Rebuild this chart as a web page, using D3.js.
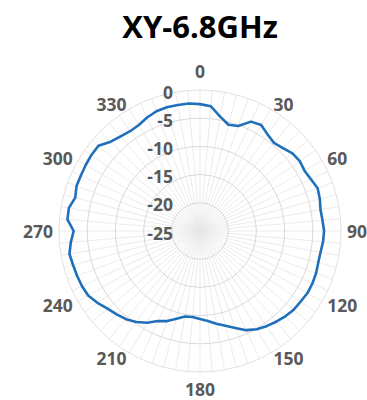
<!DOCTYPE html>
<html>
<head>
<meta charset="utf-8">
<script src="https://cdn.jsdelivr.net/npm/d3@7"></script>
<style>
  html, body { margin: 0; padding: 0; background: #fff; }
  svg { display: block; }
</style>
</head>
<body>
<svg id="chart" width="367" height="400"></svg>
<script>
// Azimuth (degrees, clockwise from top) and measured gain (dB) in the XY plane
const angles = [
  0, 5, 10, 15, 20, 25, 30, 35, 40, 45, 50, 55,
  60, 65, 70, 75, 80, 85, 90, 95, 100, 105, 110, 115,
  120, 125, 130, 135, 140, 145, 150, 155, 160, 165, 170, 175,
  180, 185, 190, 195, 200, 205, 210, 215, 220, 225, 230, 235,
  240, 245, 250, 255, 260, 265, 270, 275, 280, 285, 290, 295,
  300, 305, 310, 315, 320, 325, 330, 335, 340, 345, 350, 355
];
const gain = [
  -2.5, -2.8, -4.4, -5.5, -5.2, -3.6, -3.3, -4.1, -4.6, -4.2, -3.6, -3.4,
  -3.6, -3.3, -2.8, -3.0, -3.3, -3.2, -3.0, -3.1, -3.3, -3.3, -3.1, -3.0,
  -3.0, -3.2, -3.3, -3.6, -4.0, -4.4, -4.9, -5.6, -6.7, -7.6, -8.3, -9.0,
  -9.4, -9.7, -9.6, -8.9, -8.0, -7.4, -6.2, -5.3, -4.6, -4.1, -3.6, -2.8,
  -2.1, -1.9, -1.8, -1.7, -1.5, -2.0, -2.6, -1.4, -1.4, -2.1, -1.7, -1.7,
  -1.6, -1.5, -1.5, -2.6, -3.1, -3.4, -3.3, -2.8, -2.4, -2.3, -2.3, -2.3
];
const angleTicks = [0, 30, 60, 90, 120, 150, 180, 210, 240, 270, 300, 330];
const radialTicks = [0, -5, -10, -15, -20, -25];
const spokeAngles = d3.range(0, 360, 5);
const title = "XY-6.8GHz";

const svg = d3.select("#chart");
const cx = 200, cy = 231, R = 141;

const r = d3.scaleLinear().domain([-25, 0]).range([0, R]);
const rad = d => d * Math.PI / 180;

const g = svg.append("g").attr("transform", `translate(${cx},${cy})`);

// spokes every 5 degrees
g.append("g").selectAll("line").data(spokeAngles).join("line")
  .attr("x1", 0).attr("y1", 0)
  .attr("x2", d => R * Math.sin(rad(d)))
  .attr("y2", d => -R * Math.cos(rad(d)))
  .attr("stroke", "#e6e6e6").attr("stroke-width", 0.8);

// concentric rings
g.append("g").selectAll("circle").data(radialTicks.filter(v => v > -25)).join("circle")
  .attr("r", d => r(d))
  .attr("fill", "none")
  .attr("stroke", d => d === 0 ? "#e8dfd9" : "#dadada")
  .attr("stroke-width", 1);

// pattern trace
const pts = angles.map((a, i) => [rad(a), r(gain[i])]);
const line = d3.lineRadial().curve(d3.curveLinearClosed);
g.append("path")
  .attr("d", line(pts))
  .attr("fill", "none")
  .attr("stroke", "#1f6fba")
  .attr("stroke-width", 2.6)
  .attr("stroke-linejoin", "round");

const font = "'Open Sans', sans-serif";
const labelSize = 17.5;

// angle labels around the outer ring
const labR = R + 6;
g.append("g").selectAll("text").data(angleTicks).join("text")
  .attr("x", d => labR * Math.sin(rad(d)))
  .attr("y", d => {
    const y = -labR * Math.cos(rad(d));
    if (d === 0) return y - 13;
    if (d === 180) return y + 11;
    return y;
  })
  .attr("text-anchor", d => d === 0 || d === 180 ? "middle" : (d < 180 ? "start" : "end"))
  .attr("dominant-baseline", "central")
  .attr("font-family", font)
  .attr("font-weight", 700)
  .attr("font-size", labelSize)
  .attr("fill", "#595959")
  .text(d => d);

// radial value labels
g.append("g").selectAll("text").data(radialTicks).join("text")
  .attr("x", -27)
  .attr("y", d => -r(d) + 1.5)
  .attr("text-anchor", "end")
  .attr("dominant-baseline", "central")
  .attr("font-family", font)
  .attr("font-weight", 700)
  .attr("font-size", labelSize)
  .attr("fill", "#595959")
  .text(d => d);

// title
svg.append("text")
  .attr("x", 200).attr("y", 38)
  .attr("text-anchor", "middle")
  .attr("font-family", font)
  .attr("font-weight", 700)
  .attr("font-size", 31)
  .attr("fill", "#000")
  .text(title);
</script>
</body>
</html>
